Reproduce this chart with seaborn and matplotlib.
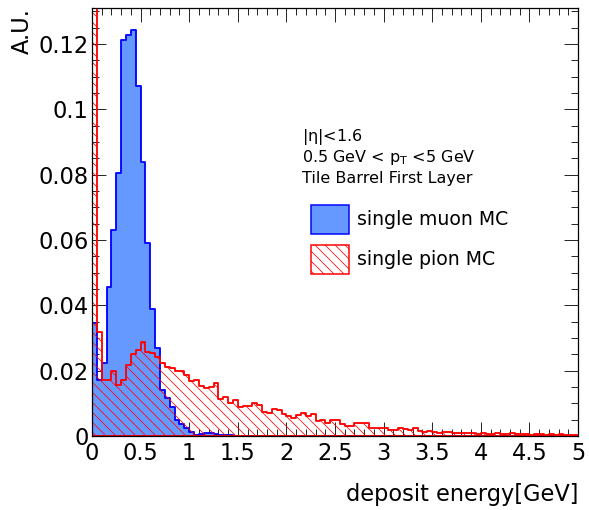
import numpy as np
import pandas as pd
import seaborn as sns
import matplotlib.pyplot as plt
from matplotlib.patches import Patch
from matplotlib.ticker import MultipleLocator, FuncFormatter

# deposit energy histograms, 0.05 GeV bins from 0 to 5 GeV (normalised, A.U.)
bin_width = 0.05
muon = [
    0.0345, 0.0171, 0.0223, 0.0457, 0.0631, 0.0804, 0.1212, 0.1228, 0.1243, 0.1070,
    0.0840, 0.0590, 0.0388, 0.0270, 0.0140, 0.0115, 0.0089, 0.0048, 0.0038, 0.0026,
    0.0013, 0.0003, 0.0006, 0.0010, 0.0009, 0.0005, 0.0003, 0.0002, 0.0002, 0.0001,
    0.0001, 0.0001, 0.0000, 0.0001, 0.0000, 0.0000, 0.0001, 0.0000, 0.0000, 0.0000,
    0.0000, 0.0000, 0.0000, 0.0000, 0.0000, 0.0000, 0.0000, 0.0000, 0.0000, 0.0000,
    0.0000, 0.0000, 0.0000, 0.0000, 0.0000, 0.0000, 0.0000, 0.0000, 0.0000, 0.0000,
    0.0000, 0.0000, 0.0000, 0.0000, 0.0000, 0.0000, 0.0000, 0.0000, 0.0000, 0.0000,
    0.0000, 0.0000, 0.0000, 0.0000, 0.0000, 0.0000, 0.0000, 0.0000, 0.0000, 0.0000,
    0.0000, 0.0000, 0.0000, 0.0000, 0.0000, 0.0000, 0.0000, 0.0000, 0.0000, 0.0000,
    0.0000, 0.0000, 0.0000, 0.0000, 0.0000, 0.0000, 0.0000, 0.0000, 0.0000, 0.0000,
]
pion = [
    0.2500, 0.0318, 0.0171, 0.0171, 0.0200, 0.0157, 0.0170, 0.0216, 0.0250, 0.0262,
    0.0287, 0.0258, 0.0253, 0.0241, 0.0224, 0.0212, 0.0207, 0.0199, 0.0200, 0.0187,
    0.0168, 0.0171, 0.0153, 0.0146, 0.0151, 0.0163, 0.0112, 0.0120, 0.0100, 0.0110,
    0.0088, 0.0092, 0.0092, 0.0102, 0.0094, 0.0074, 0.0071, 0.0082, 0.0080, 0.0067,
    0.0061, 0.0056, 0.0064, 0.0071, 0.0060, 0.0068, 0.0047, 0.0050, 0.0041, 0.0050,
    0.0049, 0.0038, 0.0030, 0.0032, 0.0040, 0.0039, 0.0039, 0.0024, 0.0025, 0.0026,
    0.0023, 0.0017, 0.0018, 0.0023, 0.0022, 0.0019, 0.0023, 0.0016, 0.0012, 0.0014,
    0.0011, 0.0010, 0.0013, 0.0011, 0.0009, 0.0008, 0.0010, 0.0008, 0.0009, 0.0007,
    0.0009, 0.0006, 0.0007, 0.0008, 0.0006, 0.0005, 0.0008, 0.0006, 0.0005, 0.0006,
    0.0004, 0.0006, 0.0005, 0.0004, 0.0005, 0.0003, 0.0005, 0.0004, 0.0003, 0.0004,
]
labels = ["single muon MC", "single pion MC"]
info_lines = [r"|$\mathregular{\eta}$|<1.6",
              r"0.5 GeV < p$_{\mathregular{T}}$ <5 GeV",
              "Tile Barrel First Layer"]

centers = (np.arange(len(muon)) + 0.5) * bin_width
df = pd.DataFrame({"energy": centers, "muon": muon, "pion": pion})

sns.set_style("ticks")
plt.rcParams["hatch.color"] = "red"
plt.rcParams["hatch.linewidth"] = 0.9
plt.rcParams["text.color"] = "black"
plt.rcParams["axes.labelcolor"] = "black"

DPI = 60
W, H = 589, 510
fig = plt.figure(figsize=(W / DPI, H / DPI), dpi=DPI)
ax = fig.add_axes([92 / W, 1 - 436 / H, 486 / W, 428 / H])

blue_fill, blue_edge, red = "#6699ff", "#0000ff", "#ff0000"
hatch = "\\\\"

sns.histplot(data=df, x="energy", weights="muon", binwidth=bin_width, binrange=(0, 5),
             element="step", fill=True, color=blue_fill, edgecolor=blue_edge,
             linewidth=2.2, alpha=1, ax=ax)
sns.histplot(data=df, x="energy", weights="pion", binwidth=bin_width, binrange=(0, 5),
             element="step", fill=True, color=red, edgecolor=red,
             linewidth=2.2, alpha=1, ax=ax)
ax.collections[-1].set_facecolor("none")
ax.collections[-1].set_hatch(hatch)

ax.set_xlim(0, 5)
ax.set_ylim(0, 0.131)
ax.xaxis.set_major_locator(MultipleLocator(0.5))
ax.xaxis.set_minor_locator(MultipleLocator(0.1))
ax.yaxis.set_major_locator(MultipleLocator(0.02))
ax.yaxis.set_minor_locator(MultipleLocator(0.005))
fmt = FuncFormatter(lambda v, p: "%g" % round(v, 4))
ax.xaxis.set_major_formatter(fmt)
ax.yaxis.set_major_formatter(fmt)
ax.tick_params(which="both", direction="in", top=True, right=True,
               color="black", width=1.0, labelsize=27, labelcolor="black")
ax.tick_params(which="major", length=16.8)
ax.tick_params(which="minor", length=8.4)
ax.tick_params(axis="x", which="major", pad=7)
ax.tick_params(axis="y", which="major", pad=4)
for s in ax.spines.values():
    s.set_linewidth(1.5)
    s.set_color("black")

ax.set_xlabel("deposit energy[GeV]", fontsize=27, loc="right", labelpad=22)
ax.set_ylabel("A.U.", fontsize=27, loc="top", labelpad=6)

for i, line in enumerate(info_lines):
    fig.text(302 / W, 1 - (140.7 + 21 * i) / H, line, fontsize=19.2,
             ha="left", va="baseline")

handles = [Patch(facecolor=blue_fill, edgecolor=blue_edge, linewidth=1.8),
           Patch(facecolor="white", edgecolor=red, linewidth=1.8, hatch=hatch)]
ax.legend(handles, labels, loc="upper left",
          bbox_to_anchor=(310.7 / W, 1 - 205 / H), bbox_transform=fig.transFigure,
          frameon=False, fontsize=22.6, handlelength=2.05, handleheight=1.955,
          handletextpad=0.41, labelspacing=0.62, borderpad=0, borderaxespad=0)

fig.savefig("out.png", dpi=DPI)
